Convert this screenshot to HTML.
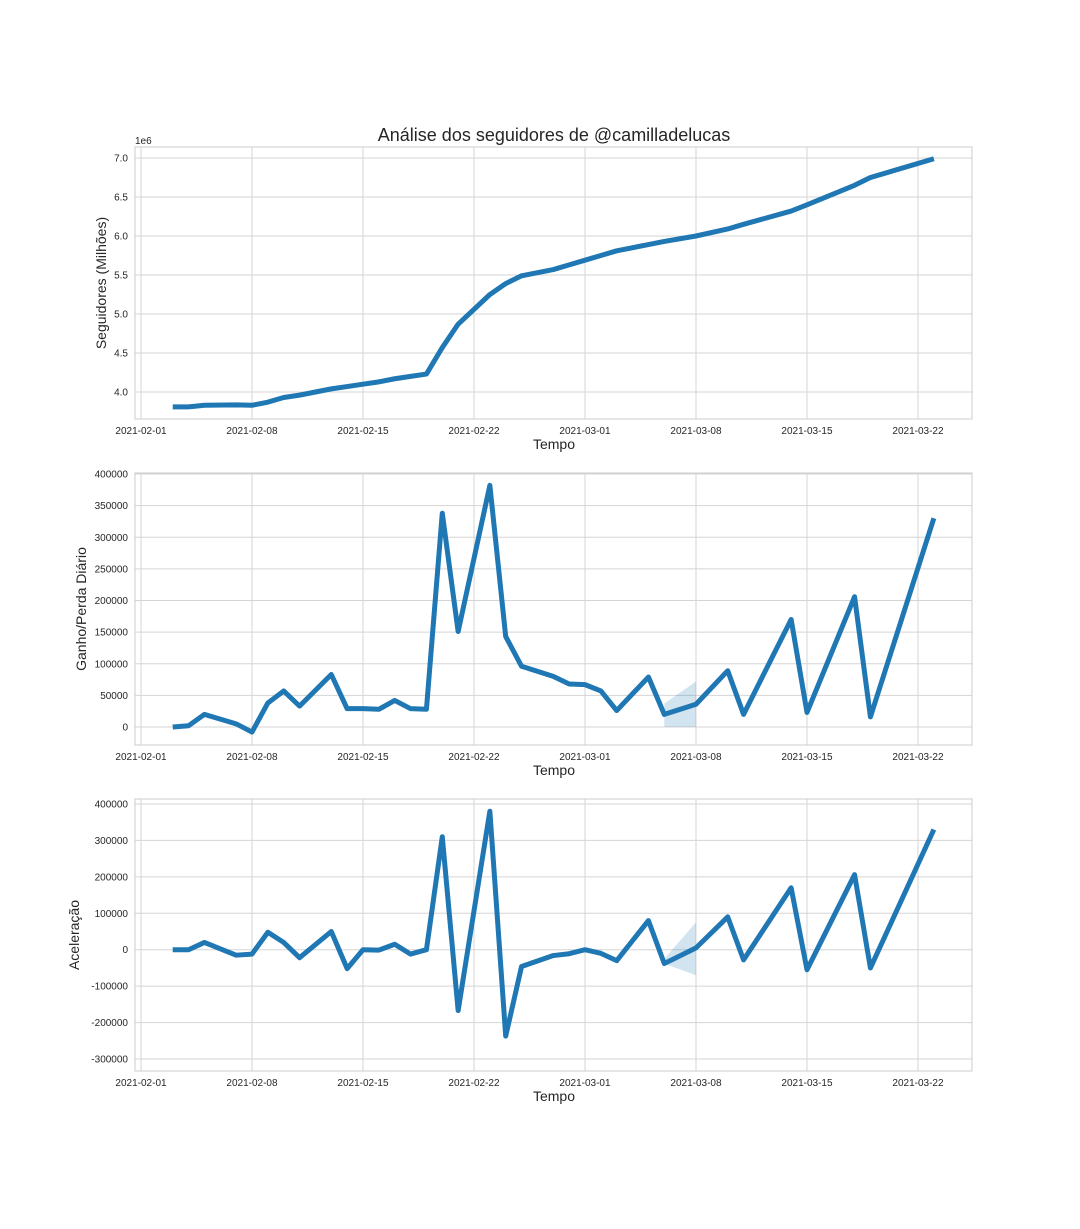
<!DOCTYPE html>
<html><head><meta charset="utf-8"><style>
body{margin:0;background:#fff;}
svg text{font-family:"Liberation Sans",sans-serif;fill:#262626;}
</style></head><body>
<svg id="fig" width="1080" height="1224" xmlns="http://www.w3.org/2000/svg">
<text x="554" y="141" font-size="18" text-anchor="middle">Análise dos seguidores de @camilladelucas</text>
</svg>
<script>
const dates=["2021-02-03","2021-02-04","2021-02-05","2021-02-07","2021-02-08","2021-02-09","2021-02-10","2021-02-11","2021-02-13","2021-02-14","2021-02-15","2021-02-16","2021-02-17","2021-02-18","2021-02-19","2021-02-20","2021-02-21","2021-02-23","2021-02-24","2021-02-25","2021-02-27","2021-02-28","2021-03-01","2021-03-02","2021-03-03","2021-03-05","2021-03-06","2021-03-08","2021-03-10","2021-03-11","2021-03-14","2021-03-15","2021-03-18","2021-03-19","2021-03-23"];
const followers=[3.81,3.81,3.83,3.835,3.83,3.87,3.93,3.96,4.04,4.07,4.10,4.13,4.17,4.20,4.23,4.57,4.87,5.25,5.39,5.49,5.57,5.63,5.69,5.75,5.81,5.89,5.93,6.00,6.09,6.15,6.32,6.40,6.65,6.75,6.99];
const gain=[0,2000,20000,5000,-8000,38000,57000,33000,83000,29000,29000,28000,42000,29000,28000,338000,151000,382000,143000,96000,80000,68000,67000,57000,26000,79000,20000,36000,89000,20000,170000,23000,206000,16000,330000];
const accel=[0,0,20000,-15000,-12000,48000,20000,-22000,50000,-52000,0,-1000,15000,-12000,0,310000,-167000,380000,-237000,-46000,-16000,-11000,0,-10000,-30000,80000,-38000,5000,90000,-28000,170000,-55000,206000,-50000,330000];
const bandDates=["2021-03-06","2021-03-08"];
const gainBandLo=[0,0], gainBandHi=[37000,72000];
const accelBandLo=[-38000,-70000], accelBandHi=[-25000,75000];
const xTicks=["2021-02-01","2021-02-08","2021-02-15","2021-02-22","2021-03-01","2021-03-08","2021-03-15","2021-03-22"];
const t1=[4.0,4.5,5.0,5.5,6.0,6.5,7.0], t2=[0,50000,100000,150000,200000,250000,300000,350000,400000], t3=[-300000,-200000,-100000,0,100000,200000,300000,400000];

const NS="http://www.w3.org/2000/svg", svg=document.getElementById('fig');
const L=135,R=972;
const d0=Date.parse("2021-02-01");
function X(d){return 141+(Date.parse(d)-d0)/86400000*15.857;}
function el(t,a,p){const e=document.createElementNS(NS,t);for(const k in a)e.setAttribute(k,a[k]);(p||svg).appendChild(e);return e;}
function panel(name,top,bot,vmin,vmax,ticks,fmt,vals,label,labelX,band){
  const Y=v=>bot-(v-vmin)/(vmax-vmin)*(bot-top);
  const g=el('g',{});
  
  
  xTicks.forEach(d=>{const x=X(d);
    const l=el('line',{x1:x,x2:x,y1:top,y2:bot,stroke:'#d5d5d5','stroke-width':1},g);
    
    const t=el('text',{x:x,y:bot+15,'font-size':10,'text-anchor':'middle'},g);t.textContent=d;
    });
  ticks.forEach(v=>{const y=Y(v);
    const l=el('line',{x1:L,x2:R,y1:y,y2:y,stroke:'#d5d5d5','stroke-width':1},g);
    
    const t=el('text',{x:L-7,y:y+3.5,'font-size':10,'text-anchor':'end'},g);t.textContent=fmt(v);
    });
  const fr=el('rect',{x:L,y:top,width:R-L,height:bot-top,fill:'none',stroke:'#cccccc','stroke-width':1},g);
  
  if(band){const pts=bandDates.map((d,i)=>X(d)+','+Y(band[1][i])).concat(bandDates.map((d,i)=>X(d)+','+Y(band[0][i])).reverse());
    const b=el('polygon',{points:pts.join(' '),fill:'#1f77b4','fill-opacity':0.2},g);
    }
  const p=el('polyline',{points:dates.map((d,i)=>X(d)+','+Y(vals[i])).join(' '),fill:'none',stroke:'#1f77b4','stroke-width':5,'stroke-linejoin':'round'},g);
  
  const xl=el('text',{x:554,y:bot+30,'font-size':14,'text-anchor':'middle'},g);xl.textContent='Tempo';
  
  const cy=(top+bot)/2;
  const yl=el('text',{x:labelX,y:cy,'font-size':14,'text-anchor':'middle',transform:`rotate(-90 ${labelX} ${cy})`},g);yl.textContent=label;
  
  return Y;
}
panel('followers-panel',147,419,3.654,7.141,t1,v=>v.toFixed(1),followers,'Seguidores (Milhões)',106,null);
const off=el('text',{x:135,y:144,'font-size':10});off.textContent='1e6';

panel('gain-panel',473,745,-28458,401600,t2,v=>String(v),gain,'Ganho/Perda Diário',86,[gainBandLo,gainBandHi]);
panel('acceleration-panel',799,1071,-332900,413700,t3,v=>String(v),accel,'Aceleração',79,[accelBandLo,accelBandHi]);
</script>
</body></html>
